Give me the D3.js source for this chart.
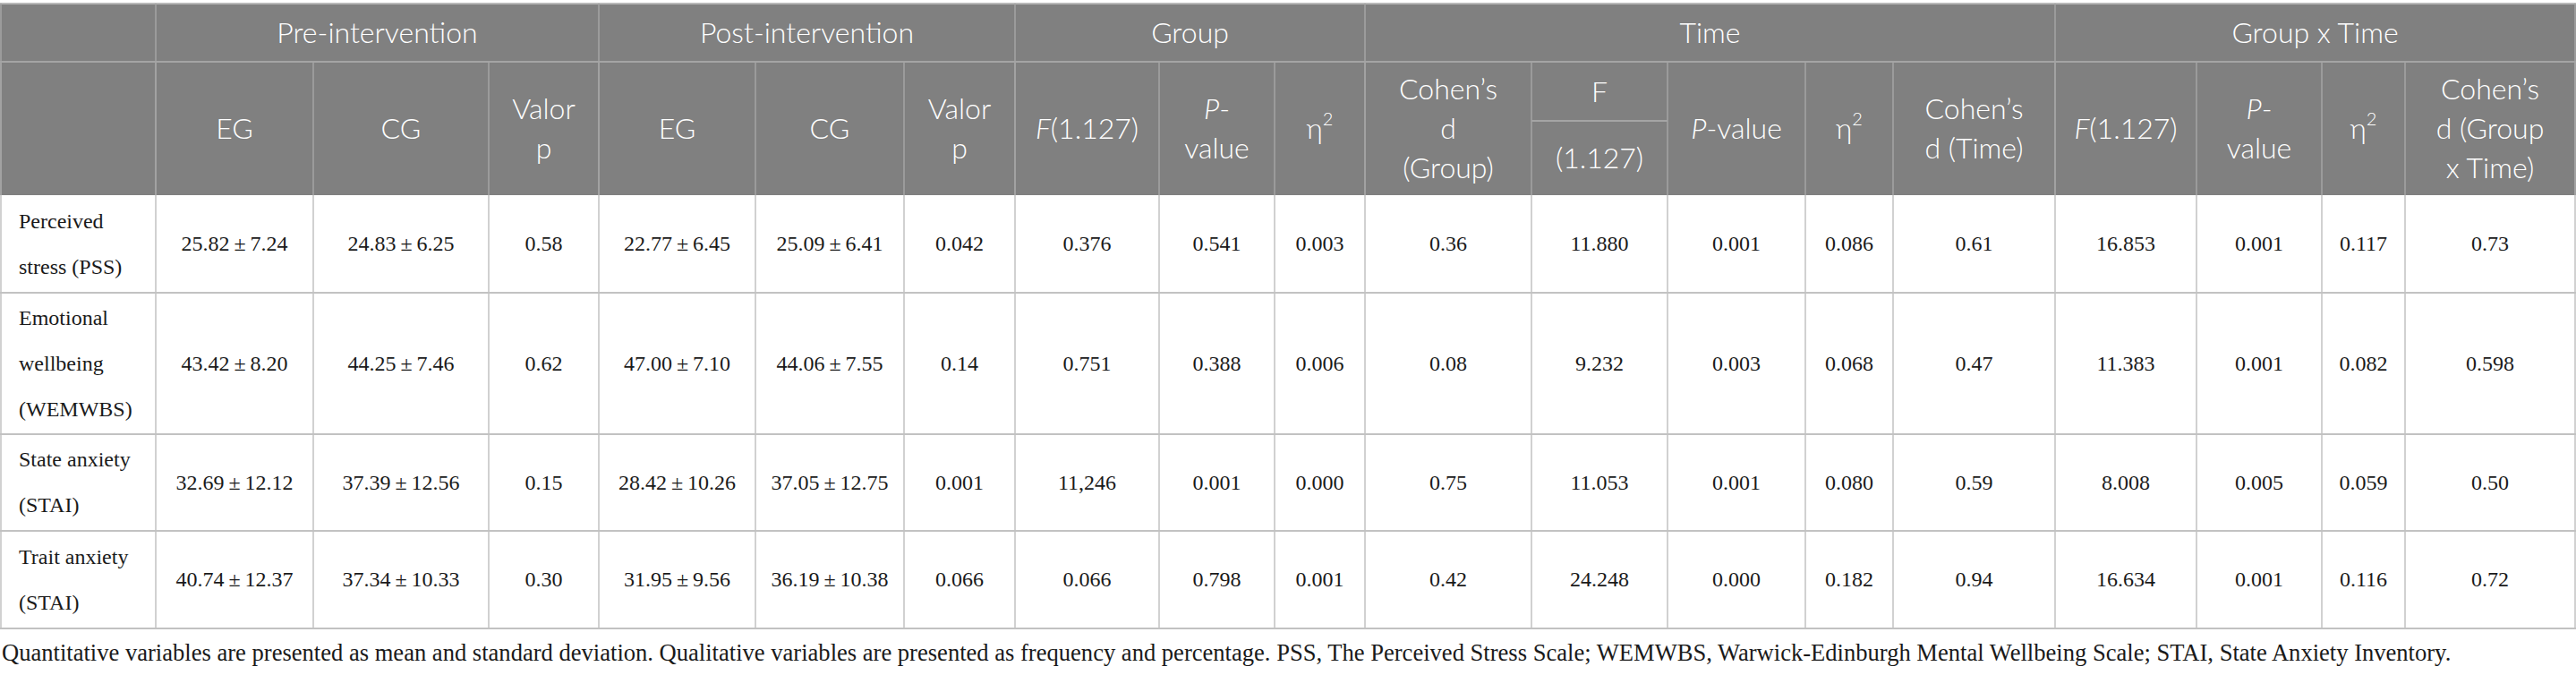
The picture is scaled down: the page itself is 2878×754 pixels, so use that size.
<!DOCTYPE html>
<html><head><meta charset="utf-8">
<script src="https://cdn.jsdelivr.net/npm/d3@7"></script>
<style>html,body{margin:0;padding:0;background:#fff;} svg{display:block}</style>
</head><body>
<svg id="chart" width="2878" height="754"></svg>
<script>
// ---------- DATA ----------
const rowLabels = [
  ["Perceived", "stress (PSS)"],
  ["Emotional", "wellbeing", "(WEMWBS)"],
  ["State anxiety", "(STAI)"],
  ["Trait anxiety", "(STAI)"]
];
const preEG   = ["25.82 ± 7.24", "43.42 ± 8.20", "32.69 ± 12.12", "40.74 ± 12.37"];
const preCG   = ["24.83 ± 6.25", "44.25 ± 7.46", "37.39 ± 12.56", "37.34 ± 10.33"];
const preP    = ["0.58", "0.62", "0.15", "0.30"];
const postEG  = ["22.77 ± 6.45", "47.00 ± 7.10", "28.42 ± 10.26", "31.95 ± 9.56"];
const postCG  = ["25.09 ± 6.41", "44.06 ± 7.55", "37.05 ± 12.75", "36.19 ± 10.38"];
const postP   = ["0.042", "0.14", "0.001", "0.066"];
const groupF  = ["0.376", "0.751", "11,246", "0.066"];
const groupP  = ["0.541", "0.388", "0.001", "0.798"];
const groupEta= ["0.003", "0.006", "0.000", "0.001"];
const cohenGroup = ["0.36", "0.08", "0.75", "0.42"];
const timeF   = ["11.880", "9.232", "11.053", "24.248"];
const timeP   = ["0.001", "0.003", "0.001", "0.000"];
const timeEta = ["0.086", "0.068", "0.080", "0.182"];
const cohenTime = ["0.61", "0.47", "0.59", "0.94"];
const gxtF    = ["16.853", "11.383", "8.008", "16.634"];
const gxtP    = ["0.001", "0.001", "0.005", "0.001"];
const gxtEta  = ["0.117", "0.082", "0.059", "0.116"];
const cohenGxT = ["0.73", "0.598", "0.50", "0.72"];

const groupHeaders = ["", "Pre-intervention", "Post-intervention", "Group", "Time", "Group x Time"];
const groupSpans   = [[0,1],[1,4],[4,7],[7,10],[10,15],[15,19]];
// sub headers: each line = list of [text, italic]
const subHeaders = [
  [],
  [[["EG",0]]], [[["CG",0]]], [[["Valor",0]],[["p",0]]],
  [[["EG",0]]], [[["CG",0]]], [[["Valor",0]],[["p",0]]],
  [[["F",1],["(1.127)",0]]], [[["P",1],["-",0]],[["value",0]]], [[["η",0],["2",2]]],
  [[["Cohen’s",0]],[["d",0]],[["(Group)",0]]],
  "SPLIT",
  [[["P",1],["-value",0]]], [[["η",0],["2",2]]], [[["Cohen’s",0]],[["d (Time)",0]]],
  [[["F",1],["(1.127)",0]]], [[["P",1],["-",0]],[["value",0]]], [[["η",0],["2",2]]],
  [[["Cohen’s",0]],[["d (Group",0]],[["x Time)",0]]]
];
const footnote = "Quantitative variables are presented as mean and standard deviation. Qualitative variables are presented as frequency and percentage. PSS, The Perceived Stress Scale; WEMWBS, Warwick-Edinburgh Mental Wellbeing Scale; STAI, State Anxiety Inventory.";

const columns = [preEG, preCG, preP, postEG, postCG, postP, groupF, groupP, groupEta, cohenGroup,
                 timeF, timeP, timeEta, cohenTime, gxtF, gxtP, gxtEta, cohenGxT];

// ---------- LAYOUT ----------
const colEdges = [1,174,350,546,669,844,1010,1134,1295,1424,1525,1711,1863,2017,2115,2296,2454,2594,2687,2877];
const rowEdges = [4,69,218,327,485,593,702];
const x = d3.scaleLinear().domain(d3.range(colEdges.length)).range(colEdges);
const y = d3.scaleLinear().domain(d3.range(rowEdges.length)).range(rowEdges);

const svg = d3.select("#chart");
const headFill = "#808080", headLine = "#a4a4a4", bodyLine = "#c2c2c2";
const sans = "Lato, 'Open Sans', sans-serif";
const serif = "'Liberation Serif', 'DejaVu Serif', serif";

// header background
svg.append("rect").attr("x", 0).attr("y", y(0)).attr("width", 2878).attr("height", y(2)-y(0)).attr("fill", headFill);
svg.append("line").attr("x1",0).attr("x2",2878).attr("y1",y(0)).attr("y2",y(0)).attr("stroke","#b8b8b8").attr("stroke-width",2);

// header lines
const hl = svg.append("g").attr("stroke", headLine).attr("stroke-width", 1.5);
hl.append("line").attr("x1",0).attr("x2",2878).attr("y1",y(1)).attr("y2",y(1)).attr("stroke-width",2);
groupSpans.forEach(s => {
  hl.append("line").attr("x1",x(s[0])).attr("x2",x(s[0])).attr("y1",y(0)).attr("y2",y(2));
});
hl.append("line").attr("x1",x(19)).attr("x2",x(19)).attr("y1",y(0)).attr("y2",y(2));
d3.range(colEdges.length).forEach(i => {
  hl.append("line").attr("x1",x(i)).attr("x2",x(i)).attr("y1",y(1)).attr("y2",y(2));
});
const splitY = 135;
hl.append("line").attr("x1",x(11)).attr("x2",x(12)).attr("y1",splitY).attr("y2",splitY).attr("stroke-width",2);

// header text
const ht = svg.append("g").attr("fill","#fff").attr("font-family",sans).attr("font-size",32).attr("font-weight",300).attr("text-anchor","middle");
groupHeaders.forEach((h,i) => {
  const s = groupSpans[i];
  ht.append("text").attr("x",(x(s[0])+x(s[1]))/2).attr("y",(y(0)+y(1))/2).attr("dy","0.36em").text(h);
});
function drawLines(g, cx, cy, lines, lh) {
  const n = lines.length;
  lines.forEach((segs, k) => {
    const t = g.append("text").attr("x",cx).attr("y", cy + (k-(n-1)/2)*lh).attr("dy","0.36em");
    segs.forEach(sg => {
      const ts = t.append("tspan").text(sg[0]);
      if (sg[1]===1) ts.attr("font-style","italic");
      if (sg[1]===2) ts.attr("font-size",20).attr("dy","-0.75em");
    });
  });
}
subHeaders.forEach((lines, j) => {
  const cx = (x(j)+x(j+1))/2;
  if (lines === "SPLIT") {
    drawLines(ht, cx, (y(1)+splitY)/2, [[["F",0]]], 44);
    drawLines(ht, cx, (splitY+y(2))/2, [[["(1.127)",0]]], 44);
    return;
  }
  drawLines(ht, cx, (y(1)+y(2))/2, lines, 44);
});

// body lines
const bl = svg.append("g").attr("stroke", bodyLine);
d3.range(3, rowEdges.length).forEach(r => {
  bl.append("line").attr("x1",0).attr("x2",2878).attr("y1",y(r)).attr("y2",y(r)).attr("stroke-width",2);
});
d3.range(colEdges.length).forEach(i => {
  bl.append("line").attr("x1",x(i)).attr("x2",x(i)).attr("y1",y(2)).attr("y2",y(6)).attr("stroke-width",1.5);
});

// body text
const bt = svg.append("g").attr("fill","#1a1a1a").attr("font-family",serif).attr("font-size",24);
rowLabels.forEach((lines, r) => {
  const cy = (y(r+2)+y(r+3))/2;
  lines.forEach((ln,k) => {
    bt.append("text").attr("x", x(0)+20).attr("y", cy + (k-(lines.length-1)/2)*51).attr("dy","0.33em").text(ln);
  });
});
columns.forEach((col, j) => {
  const cx = (x(j+1)+x(j+2))/2;
  col.forEach((v, r) => {
    const cy = (y(r+2)+y(r+3))/2;
    bt.append("text").attr("x",cx).attr("y",cy).attr("dy","0.33em").attr("text-anchor","middle")
      .text(v.replace(" ± ", "\u2009±\u2009"));
  });
});

// footnote
const fn = svg.append("text").attr("x",2).attr("y",738).attr("fill","#1a1a1a").attr("font-family",serif).attr("font-size",24).text(footnote);
const w = fn.node().getComputedTextLength();
fn.attr("font-size", 24*2738/w);
</script>
</body></html>
